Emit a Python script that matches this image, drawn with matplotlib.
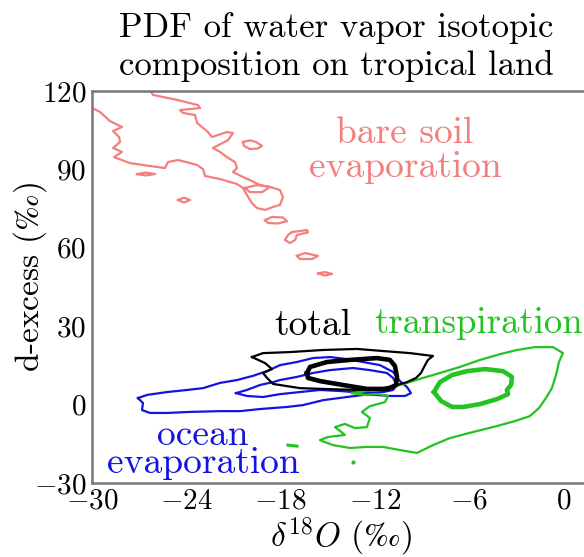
import matplotlib
matplotlib.use('Agg')
import matplotlib.pyplot as plt

plt.rcParams['font.family'] = ['cmr10', 'DejaVu Serif']
plt.rcParams['mathtext.fontset'] = 'cm'
plt.rcParams['axes.formatter.use_mathtext'] = True

# ---------------- data (contour outlines) ----------------
# bare soil evaporation (main band, open at the axes edges)
soil_main_x = [-30, -29.49, -28.86, -28.09, -28.66, -28.28, -28.22, -28.66, -28.09, -28.60,
               -27.58, -26.31, -25.36, -25.17, -24.53, -23.32, -22.94, -22.82, -21.86, -20.78,
               -20.40, -20.15, -19.83, -19.51, -19.00, -18.49, -18.05, -17.86, -18.05, -18.68,
               -19.32, -19.96, -20.40, -21.04, -20.78, -20.91, -21.42, -21.86, -22.31, -21.35,
               -21.04, -21.42, -22.37, -22.63, -23.32, -23.45, -24.21, -24.41, -23.13, -23.26,
               -24.60, -26.12, -26.31]
soil_main_y = [113.5, 112.0, 108.5, 106.2, 104.7, 102.4, 100.5, 98.2, 96.7, 94.7,
               92.4, 91.3, 90.5, 92.8, 93.6, 91.7, 90.1, 87.5, 86.3, 84.4,
               82.9, 80.2, 77.1, 75.2, 74.5, 75.6, 76.4, 79.4, 82.1, 83.3,
               84.0, 85.9, 87.1, 89.0, 90.5, 92.8, 94.7, 96.7, 98.2, 101.2,
               103.9, 104.3, 102.4, 104.3, 107.8, 110.8, 111.6, 112.7, 113.5, 114.6,
               116.6, 118.5, 120.5]
# bare soil evaporation small closed islands
soil_b1_x = [-20.40, -19.96, -19.58, -19.19, -19.45, -19.96, -20.34, -20.40]
soil_b1_y = [100.5, 101.1, 100.5, 99.0, 98.0, 97.8, 99.0, 100.5]
soil_b2_x = [-27.14, -26.57, -25.99, -26.57, -27.14]
soil_b2_y = [88.2, 88.8, 88.2, 87.7, 88.2]
soil_b3_x = [-24.53, -24.15, -23.77, -24.15, -24.53]
soil_b3_y = [78.3, 79.2, 78.3, 77.3, 78.3]
soil_b4_x = [-20.27, -19.51, -18.68, -19.19, -19.96, -20.27]
soil_b4_y = [82.9, 84.0, 83.3, 81.3, 81.3, 82.9]
soil_b5_x = [-19.00, -18.56, -17.86, -17.60, -18.17, -18.81, -19.00]
soil_b5_y = [70.6, 71.8, 71.6, 70.2, 69.3, 69.5, 70.6]
soil_b6_x = [-17.29, -16.33, -16.27, -16.97, -17.09, -17.41, -17.73, -17.54, -17.29]
soil_b6_y = [66.0, 66.8, 65.9, 64.9, 63.0, 61.8, 63.0, 64.9, 66.0]
soil_b7_x = [-16.97, -16.46, -15.63, -16.01, -16.78, -16.97]
soil_b7_y = [56.9, 58.0, 56.9, 55.7, 55.7, 56.9]
soil_b8_x = [-15.63, -15.19, -14.74, -15.19, -15.63]
soil_b8_y = [50.2, 50.7, 50.0, 49.4, 50.2]

# ocean evaporation
ocean_outer_x = [-27.08, -26.50, -25.23, -23.96, -22.94, -21.86, -20.78, -19.77, -18.87, -18.05,
                 -16.97, -15.95, -14.87, -13.79, -12.77, -11.69, -10.86, -10.42, -9.97, -9.72,
                 -10.10, -11.06, -12.01, -12.77, -13.79, -15.31, -16.59, -17.60, -19.32, -20.59,
                 -21.86, -23.77, -25.23, -26.31, -26.82, -26.76, -27.08]
ocean_outer_y = [2.5, 3.7, 4.8, 5.6, 6.3, 8.3, 9.4, 11.0, 12.8, 15.1,
                 16.3, 17.8, 18.2, 17.4, 16.3, 15.1, 12.5, 9.0, 6.7, 4.4,
                 3.3, 3.3, 3.7, 3.7, 2.9, 1.7, -0.2, -0.9, -1.7, -2.5,
                 -2.5, -2.8, -3.2, -3.2, -2.1, 0.6, 2.5]
ocean_inner_x = [-20.85, -20.15, -19.32, -18.49, -18.05, -16.97, -15.95, -14.87, -13.41, -12.33,
                 -11.25, -10.86, -10.61, -10.86, -11.50, -12.52, -14.23, -15.51, -16.78, -18.05,
                 -19.13, -20.15, -20.85]
ocean_inner_y = [4.4, 5.6, 7.5, 8.6, 9.4, 10.6, 12.1, 13.2, 14.0, 13.2,
                 12.1, 10.2, 7.5, 5.6, 4.8, 4.4, 5.2, 5.6, 4.8, 4.0,
                 2.9, 3.3, 4.4]

# total
total_outer_x = [-19.83, -19.13, -17.41, -15.31, -13.15, -11.50, -9.78, -8.32, -8.64, -8.89,
                 -9.08, -9.40, -9.97, -10.61, -11.50, -12.96, -14.87, -16.78, -18.49, -18.87,
                 -19.13, -18.56, -19.00, -19.83]
total_outer_y = [18.2, 19.7, 20.1, 20.9, 21.3, 20.5, 19.7, 18.6, 17.1, 14.4,
                 12.1, 10.2, 8.6, 7.5, 6.3, 5.6, 5.9, 6.3, 7.9, 10.2,
                 12.1, 13.6, 15.9, 18.2]
total_inner_x = [-16.33, -16.14, -15.06, -13.60, -11.88, -11.06, -10.74, -10.61, -10.67, -11.18,
                 -12.52, -14.04, -15.51, -16.27, -16.33]
total_inner_y = [12.1, 14.4, 16.3, 17.1, 17.8, 17.1, 14.8, 10.6, 7.5, 6.0,
                 6.0, 7.5, 9.0, 10.2, 12.1]

# transpiration
transp_outer_x = [-13.47, -12.52, -11.50, -10.42, -8.96, -7.88, -6.61, -5.33, -4.06, -2.98,
                  -1.84, -0.69, -0.06, -0.31, -0.50, -0.76, -1.14, -1.58, -2.16, -3.11,
                  -4.25, -5.78, -7.24, -8.32, -9.34, -10.42, -11.50, -12.52, -13.60, -14.68,
                  -15.51, -15.00, -13.92, -14.23, -14.55, -13.92, -13.28, -12.52, -12.33, -12.84,
                  -12.33, -11.37, -11.18, -11.82, -12.64, -13.47]
transp_outer_y = [4.4, 5.2, 6.0, 7.5, 10.2, 12.1, 14.4, 17.1, 19.3, 20.9,
                  22.0, 22.0, 19.7, 16.3, 11.3, 6.3, 2.5, -1.3, -4.4, -6.3,
                  -8.2, -10.5, -12.8, -15.5, -18.5, -17.4, -16.2, -16.2, -16.6, -15.5,
                  -13.6, -12.4, -11.6, -10.1, -8.6, -7.4, -9.0, -8.6, -5.1, -2.8,
                  -0.6, 0.97, 3.3, 4.0, 3.7, 4.4]
transp_inner_x = [-8.26, -7.88, -7.11, -6.16, -5.02, -3.87, -3.30, -3.36, -3.62, -3.55,
                  -4.25, -5.33, -6.41, -7.11, -7.81, -8.26]
transp_inner_y = [4.8, 8.6, 11.3, 12.8, 13.6, 12.8, 10.6, 7.5, 5.6, 4.0,
                  2.1, 0.2, -0.9, -0.9, 1.4, 4.8]
transp_dash_x = [-17.54, -16.97]
transp_dash_y = [-15.5, -15.9]
transp_dot_x = [-13.41]
transp_dot_y = [-22.0]

xticks = [-30, -24, -18, -12, -6, 0]
yticks = [-30, 0, 30, 60, 90, 120]

# ---------------- styles ----------------
c_soil = '#f37f7f'
c_ocean = '#1414e0'
c_total = '#000000'
c_transp = '#22c322'
thin = 1.6
thick = 3.3

fig = plt.figure(figsize=(5.84, 5.57), dpi=100)
ax = fig.add_axes([92 / 584, 1 - 483 / 557, (584 - 92) / 584, (483 - 91) / 557])

soil_parts = [(soil_main_x, soil_main_y), (soil_b1_x, soil_b1_y), (soil_b2_x, soil_b2_y),
              (soil_b3_x, soil_b3_y), (soil_b4_x, soil_b4_y), (soil_b5_x, soil_b5_y),
              (soil_b6_x, soil_b6_y), (soil_b7_x, soil_b7_y), (soil_b8_x, soil_b8_y)]
for xs, ys in soil_parts:
    ax.plot(xs, ys, color=c_soil, lw=thin)

ax.plot(ocean_outer_x, ocean_outer_y, color=c_ocean, lw=thin)
ax.plot(ocean_inner_x, ocean_inner_y, color=c_ocean, lw=thin)
ax.plot(transp_outer_x, transp_outer_y, color=c_transp, lw=thin)
ax.plot(transp_inner_x, transp_inner_y, color=c_transp, lw=thick)
ax.plot(transp_dash_x, transp_dash_y, color=c_transp, lw=2.2)
ax.plot(transp_dot_x, transp_dot_y, 'o', color=c_transp, ms=2)
ax.plot(total_outer_x, total_outer_y, color=c_total, lw=thin)
ax.plot(total_inner_x, total_inner_y, color=c_total, lw=thick)

ax.set_xlim(-30, 1.28)
ax.set_ylim(-30, 120)
ax.set_xticks(xticks)
ax.set_yticks(yticks)
ax.tick_params(length=0, labelsize=21, pad=4)
for s in ['left', 'bottom', 'top']:
    ax.spines[s].set_color('#777777')
    ax.spines[s].set_linewidth(1.8)
ax.spines['right'].set_visible(False)

fs = 27
ax.text(-10.1, 103.9, 'bare soil', color=c_soil, fontsize=fs, ha='center', va='center')
ax.text(-10.1, 90.9, 'evaporation', color=c_soil, fontsize=fs, ha='center', va='center')
ax.text(-15.95, 30.4, 'total', color=c_total, fontsize=fs, ha='center', va='center')
ax.text(-5.45, 31.2, 'transpiration', color=c_transp, fontsize=26.5, ha='center', va='center')
ax.text(-22.94, -11.6, 'ocean', color=c_ocean, fontsize=fs, ha='center', va='center')
ax.text(-22.94, -22.6, 'evaporation', color=c_ocean, fontsize=fs, ha='center', va='center')

fig.text(336 / 584, 1 - 37 / 557, 'PDF of water vapor isotopic', fontsize=25,
         ha='center', va='baseline')
fig.text(336 / 584, 1 - 75 / 557, 'composition on tropical land', fontsize=25,
         ha='center', va='baseline')

ax.set_ylabel(r'd-excess ($\perthousand$)', fontsize=24, va='center')
ax.yaxis.set_label_coords((30 - 92) / 492, (483 - 277) / 392)
ax.set_xlabel(r'$\delta^{18}O$ ($\perthousand$)', fontsize=24, va='center')
ax.xaxis.set_label_coords((341 - 92) / 492, (483 - 537) / 392)

fig.savefig('out.png', dpi=100)
